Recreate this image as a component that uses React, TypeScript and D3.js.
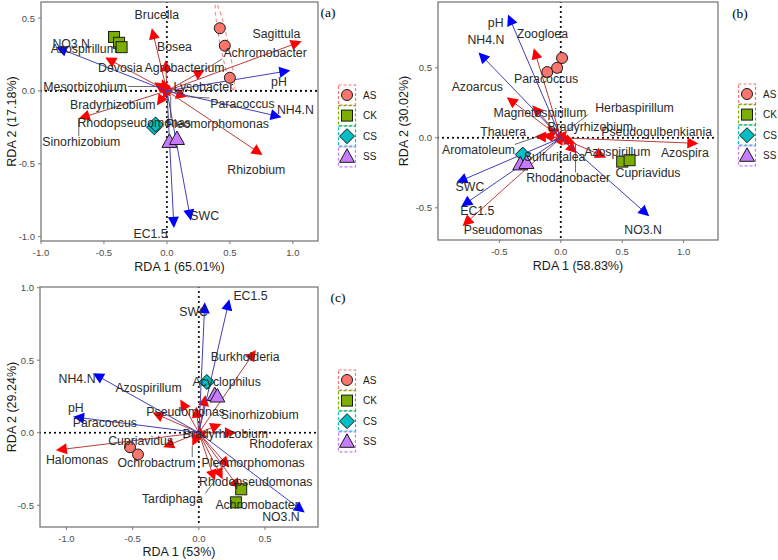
import React from 'react';
import * as d3 from 'd3';

// ---------- shared ----------
const groups = ['AS', 'CK', 'CS', 'SS'];
const groupColors = ['#F8766D', '#7CAE00', '#00BFC4', '#C77CFF'];

// ---------- panel (a) ----------
const envA: [string, number, number][] = [
  ['NO3.N', -0.88, 0.30], ['pH', 0.98, 0.14], ['NH4.N', 0.91, -0.18], ['SWC', 0.19, -0.89], ['EC1.5', 0.056, -0.94],
];
const envLabelA: [number, number][] = [[-0.76, 0.32], [0.89, 0.06], [1.02, -0.13], [0.30, -0.86], [-0.13, -0.98]];
const speciesA: [string, number, number][] = [
  ['Brucella', -0.12, 0.43], ['Bosea', -0.01, 0.21], ['Azospirillum', -0.49, 0.23], ['Devosia', -0.10, 0.06],
  ['Agrobacterium', -0.04, 0.08], ['Mesorhizobium', -0.08, 0.03], ['Lysobacter', 0.05, 0.02],
  ['Bradyrhizobium', -0.08, -0.10], ['Sinorhizobium', -0.70, -0.19], ['Rhodopseudomonas', -0.03, -0.05],
  ['Pleomorphomonas', 0.03, -0.04], ['Paracoccus', 0.16, -0.04], ['Sagittula', 1.07, 0.34],
  ['Achromobacter', 0.30, 0.145], ['Rhizobium', 0.76, -0.44],
];
const speciesLabelA: [number, number][] = [
  [-0.08, 0.52], [0.06, 0.30], [-0.66, 0.29], [-0.37, 0.16], [0.14, 0.16], [-0.65, 0.03], [0.29, 0.03],
  [-0.43, -0.10], [-0.68, -0.35], [-0.26, -0.22], [0.40, -0.23], [0.60, -0.09], [0.87, 0.39], [0.78, 0.26], [0.71, -0.54],
];
const leadersA = ['Sinorhizobium', 'Achromobacter', 'Mesorhizobium', 'Pleomorphomonas', 'Paracoccus'];
const samplesA: [string, number, number][] = [
  ['AS', 0.42, 0.43], ['AS', 0.46, 0.31], ['AS', 0.50, 0.09],
  ['CK', -0.42, 0.37], ['CK', -0.38, 0.33], ['CK', -0.36, 0.30],
  ['CS', -0.10, -0.25], ['CS', -0.09, -0.23],
  ['SS', 0.02, -0.35], ['SS', 0.08, -0.33],
];

// ---------- panel (b) ----------
const envB: [string, number, number][] = [
  ['pH', -0.43, 0.88], ['NH4.N', -0.67, 0.61], ['SWC', -0.85, -0.32], ['EC1.5', -0.81, -0.49], ['NO3.N', 0.72, -0.56],
];
const envLabelB: [number, number][] = [[-0.53, 0.82], [-0.61, 0.70], [-0.74, -0.35], [-0.68, -0.52], [0.67, -0.66]];
const speciesB: [string, number, number][] = [
  ['Zoogloea', -0.22, 0.64], ['Paracoccus', -0.11, 0.08], ['Azoarcus', -0.44, 0.29], ['Magnetospirillum', -0.23, 0.23],
  ['Herbaspirillum', 0.05, 0.05], ['Bradyrhizobium', 0.02, 0.03], ['Pseudogulbenkiania', 0.08, 0.0],
  ['Thauera', -0.21, 0.01], ['Aromatoleum', -0.15, 0.02], ['Sulfuritalea', 0.13, -0.11],
  ['Azospirillum', 0.37, -0.14], ['Azospira', 1.12, -0.04], ['Rhodanobacter', 0.12, -0.04],
  ['Cupriavidus', 0.07, 0.0], ['Pseudomonas', -0.80, -0.63],
];
const speciesLabelB: [number, number][] = [
  [-0.15, 0.74], [-0.12, 0.42], [-0.68, 0.36], [-0.17, 0.18], [0.60, 0.21], [0.24, 0.08], [0.78, 0.04],
  [-0.47, 0.04], [-0.67, -0.09], [-0.05, -0.14], [0.46, -0.10], [1.01, -0.11], [0.06, -0.29], [0.71, -0.25], [-0.47, -0.66],
];
const leadersB = ['Herbaspirillum', 'Aromatoleum', 'Rhodanobacter', 'Sulfuritalea', 'Magnetospirillum'];
const samplesB: [string, number, number][] = [
  ['AS', -0.11, 0.47], ['AS', -0.03, 0.50], ['AS', 0.01, 0.57],
  ['CK', 0.50, -0.17], ['CK', 0.56, -0.16],
  ['CS', -0.31, -0.12],
  ['SS', -0.33, -0.19], ['SS', -0.28, -0.18],
];

// ---------- panel (c) ----------
const envC: [string, number, number][] = [
  ['SWC', 0.045, 0.90], ['EC1.5', 0.23, 0.92], ['NH4.N', -0.80, 0.41], ['pH', -0.95, 0.11], ['NO3.N', 0.80, -0.55],
];
const envLabelC: [number, number][] = [[-0.04, 0.83], [0.39, 0.94], [-0.92, 0.37], [-0.93, 0.17], [0.62, -0.58]];
const speciesC: [string, number, number][] = [
  ['Burkholderia', 0.43, 0.57], ['Acyclophilus', 0.05, 0.26], ['Azospirillum', -0.14, 0.23],
  ['Paracoccus', -0.02, 0.18], ['Pseudomonas', -0.35, 0.14], ['Sinorhizobium', 0.17, 0.06],
  ['Bradyrhizobium', 0.28, 0.0], ['Rhodoferax', 0.06, -0.03], ['Cupriavidus', -0.27, -0.10],
  ['Halomonas', -1.08, -0.12], ['Ochrobactrum', -0.05, -0.09], ['Pleomorphomonas', 0.23, -0.24],
  ['Rhodopseudomonas', 0.18, -0.32], ['Tardiphaga', 0.12, -0.33], ['Achromobacter', 0.31, -0.39],
];
const speciesLabelC: [number, number][] = [
  [0.35, 0.52], [0.21, 0.35], [-0.38, 0.31], [-0.71, 0.07], [-0.10, 0.14], [0.46, 0.12],
  [0.20, -0.01], [0.62, -0.08], [-0.44, -0.06], [-0.92, -0.19], [-0.32, -0.21], [0.41, -0.21],
  [0.43, -0.34], [-0.20, -0.46], [0.44, -0.50],
];
const leadersC = ['Pseudomonas', 'Tardiphaga', 'Ochrobactrum'];
const samplesC: [string, number, number][] = [
  ['AS', -0.52, -0.10], ['AS', -0.46, -0.15],
  ['CK', 0.32, -0.39], ['CK', 0.28, -0.48],
  ['CS', 0.06, 0.35],
  ['SS', 0.12, 0.26], ['SS', 0.14, 0.25],
];

const FONT = 'Liberation Sans, Arial, sans-serif';
const LABEL_SIZE = 12.3;

function Shape({ g, cx, cy }: { g: string; cx: number; cy: number }) {
  const i = groups.indexOf(g);
  const fill = groupColors[i];
  const common = { fill, stroke: '#1a1a1a', strokeWidth: 1 };
  if (g === 'AS') return <circle cx={cx} cy={cy} r={5.5} {...common} />;
  if (g === 'CK') return <rect x={cx - 5.5} y={cy - 5.5} width={11} height={11} {...common} />;
  if (g === 'CS') return <polygon points={`${cx},${cy - 7.5} ${cx + 7.5},${cy} ${cx},${cy + 7.5} ${cx - 7.5},${cy}`} {...common} />;
  return <polygon points={`${cx},${cy - 8} ${cx + 7.5},${cy + 5.5} ${cx - 7.5},${cy + 5.5}`} {...common} />;
}

function Arrow({ x0, y0, x1, y1, line, head }: { x0: number; y0: number; x1: number; y1: number; line: string; head: string }) {
  const dx = x1 - x0, dy = y1 - y0;
  const len = Math.sqrt(dx * dx + dy * dy) || 1;
  const ux = dx / len, uy = dy / len;
  const hl = 11, hw = 5.5;
  const bx = x1 - ux * hl, by = y1 - uy * hl;
  const pts = `${x1},${y1} ${bx - uy * hw},${by + ux * hw} ${bx + uy * hw},${by - ux * hw}`;
  return (
    <g>
      <line x1={x0} y1={y0} x2={x1 - ux * 4} y2={y1 - uy * 4} stroke={line} strokeWidth={1} />
      <polygon points={pts} fill={head} />
    </g>
  );
}

type PanelProps = {
  box: [number, number, number, number]; // left, top, right, bottom
  xDomain: [number, number];
  yDomain: [number, number];
  xTicks: number[];
  yTicks: number[];
  xTitle: string;
  yTitle: string;
  yTitleX: number;
  xTitleY: number;
  tag: string;
  tagPos: [number, number];
  legendPos: [number, number];
  env: [string, number, number][];
  envLabel: [number, number][];
  species: [string, number, number][];
  speciesLabel: [number, number][];
  leaders: string[];
  samples: [string, number, number][];
  ellipse?: boolean;
};

function Panel(p: PanelProps) {
  const [L, T, R, B] = p.box;
  const x = d3.scaleLinear().domain(p.xDomain).range([L, R]);
  const y = d3.scaleLinear().domain(p.yDomain).range([B, T]);
  const ox = x(0), oy = y(0);
  const fmt = (v: number) => v.toFixed(1);
  const clipId = 'clip' + p.tag.replace(/[()]/g, '');
  const as = p.samples.filter(s => s[0] === 'AS');
  return (
    <g fontFamily={FONT}>
      <defs>
        <clipPath id={clipId}><rect x={L} y={T} width={R - L} height={B - T} /></clipPath>
      </defs>
      <g clipPath={`url(#${clipId})`}>
        <line x1={ox} x2={ox} y1={T} y2={B} stroke="#000" strokeWidth={2.2} strokeDasharray="0 5" strokeLinecap="round" />
        <line x1={L} x2={R} y1={oy} y2={oy} stroke="#000" strokeWidth={2.2} strokeDasharray="0 5" strokeLinecap="round" />
        {p.ellipse && as.length > 1 && (() => {
          const a0 = as[0], a1 = as[as.length - 1];
          const cx = (x(a0[1]) + x(a1[1])) / 2, cy = (y(a0[2]) + y(a1[2])) / 2 - 6;
          const ang = Math.atan2(y(a1[2]) - y(a0[2]), x(a1[1]) - x(a0[1])) * 180 / Math.PI;
          return <ellipse cx={cx} cy={cy} rx={44} ry={4} transform={`rotate(${ang} ${cx} ${cy})`} fill="none" stroke="#F8766D" strokeDasharray="4 3" strokeWidth={1.2} opacity={0.8} />;
        })()}
        {p.species.map((s, i) => (
          <Arrow key={'s' + i} x0={ox} y0={oy} x1={x(s[1])} y1={y(s[2])} line="#B83C3C" head="#FF0000" />
        ))}
        {p.env.map((e, i) => (
          <Arrow key={'e' + i} x0={ox} y0={oy} x1={x(e[1])} y1={y(e[2])} line="#4040B8" head="#0000FF" />
        ))}
        {p.samples.map((s, i) => <Shape key={'p' + i} g={s[0]} cx={x(s[1])} cy={y(s[2])} />)}
        {p.species.map((s, i) => {
          if (!p.leaders.includes(s[0])) return null;
          const lx = x(p.speciesLabel[i][0]), ly = y(p.speciesLabel[i][1]);
          const tx = x(s[1]), ty = y(s[2]);
          const hw = s[0].length * 3.3, hh = 6;
          const cx = Math.max(lx - hw, Math.min(tx, lx + hw));
          const cy = Math.max(ly - hh, Math.min(ty, ly + hh));
          return <line key={'l' + i} x1={cx} y1={cy} x2={tx} y2={ty} stroke="#444" strokeWidth={0.8} />;
        })}
        {p.species.map((s, i) => (
          <text key={'t' + i} x={x(p.speciesLabel[i][0])} y={y(p.speciesLabel[i][1])} textAnchor="middle" dominantBaseline="central" fontSize={LABEL_SIZE} fill="#2b2b2b">{s[0]}</text>
        ))}
        {p.env.map((e, i) => (
          <text key={'u' + i} x={x(p.envLabel[i][0])} y={y(p.envLabel[i][1])} textAnchor="middle" dominantBaseline="central" fontSize={LABEL_SIZE} fill="#2b2b2b">{e[0]}</text>
        ))}
      </g>
      <rect x={L} y={T} width={R - L} height={B - T} fill="none" stroke="#7a7a7a" strokeWidth={1.3} />
      {p.xTicks.map(t => (
        <g key={'xt' + t}>
          <line x1={x(t)} x2={x(t)} y1={B} y2={B + 3} stroke="#7a7a7a" />
          <text x={x(t)} y={B + 15} textAnchor="middle" fontSize={9.5} fill="#4d4d4d">{fmt(t)}</text>
        </g>
      ))}
      {p.yTicks.map(t => (
        <g key={'yt' + t}>
          <line x1={L - 3} x2={L} y1={y(t)} y2={y(t)} stroke="#7a7a7a" />
          <text x={L - 6} y={y(t)} textAnchor="end" dominantBaseline="central" fontSize={9.5} fill="#4d4d4d">{fmt(t)}</text>
        </g>
      ))}
      <text x={(L + R) / 2} y={p.xTitleY} textAnchor="middle" fontSize={12.5} fill="#1a1a1a">{p.xTitle}</text>
      <text transform={`translate(${p.yTitleX},${(T + B) / 2}) rotate(-90)`} textAnchor="middle" dominantBaseline="central" fontSize={12.5} fill="#1a1a1a">{p.yTitle}</text>
      <text x={p.tagPos[0]} y={p.tagPos[1]} fontFamily="Liberation Serif, Times New Roman, serif" fontSize={13.5} textAnchor="middle" dominantBaseline="central" fill="#000">{p.tag}</text>
      {groups.map((g, i) => {
        const kx = p.legendPos[0], ky = p.legendPos[1] + i * 20.6;
        return (
          <g key={'lg' + g}>
            <rect x={kx - 8.5} y={ky - 10} width={17} height={20} fill="none" stroke={groupColors[i]} strokeDasharray="3 2" strokeWidth={1.2} />
            <Shape g={g} cx={kx} cy={ky} />
            <text x={kx + 16} y={ky} dominantBaseline="central" fontSize={10} fill="#1a1a1a">{g}</text>
          </g>
        );
      })}
    </g>
  );
}

export default function App() {
  return (
    <svg width={778} height={560} style={{ position: 'absolute', left: 0, top: 0, background: '#fff' }}>
      <Panel box={[41, 2, 318, 241]} xDomain={[-1.0, 1.2]} yDomain={[-1.03, 0.61]}
        xTicks={[-1, -0.5, 0, 0.5, 1]} yTicks={[-1, -0.5, 0, 0.5]}
        xTitle="RDA 1 (65.01%)" yTitle="RDA 2 (17.18%)" yTitleX={12} xTitleY={271}
        tag="(a)" tagPos={[328, 12]} legendPos={[347, 95]}
        env={envA} envLabel={envLabelA} species={speciesA} speciesLabel={speciesLabelA} leaders={leadersA} samples={samplesA} ellipse />
      <Panel box={[438, 2, 718, 240]} xDomain={[-1.0, 1.28]} yDomain={[-0.73, 0.97]}
        xTicks={[-0.5, 0, 0.5, 1]} yTicks={[-0.5, 0, 0.5]}
        xTitle="RDA 1 (58.83%)" yTitle="RDA 2 (30.02%)" yTitleX={404} xTitleY={270}
        tag="(b)" tagPos={[740, 13]} legendPos={[747, 94]}
        env={envB} envLabel={envLabelB} species={speciesB} speciesLabel={speciesLabelB} leaders={leadersB} samples={samplesB} />
      <Panel box={[40, 287, 318, 527]} xDomain={[-1.2, 0.9]} yDomain={[-0.65, 1.005]}
        xTicks={[-1, -0.5, 0, 0.5]} yTicks={[-0.5, 0, 0.5, 1]}
        xTitle="RDA 1 (53%)" yTitle="RDA 2 (29.24%)" yTitleX={12} xTitleY={556}
        tag="(c)" tagPos={[338, 297]} legendPos={[347, 380]}
        env={envC} envLabel={envLabelC} species={speciesC} speciesLabel={speciesLabelC} leaders={leadersC} samples={samplesC} />
    </svg>
  );
}
